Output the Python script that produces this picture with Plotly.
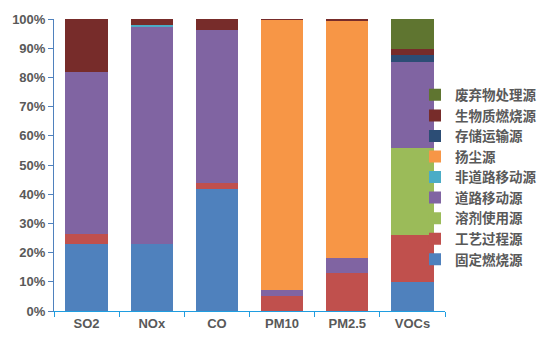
import plotly.graph_objects as go

categories = ["SO2", "NOx", "CO", "PM10", "PM2.5", "VOCs"]

source_names = ["固定燃烧源", "工艺过程源", "溶剂使用源", "道路移动源", "非道路移动源",
                "扬尘源", "存储运输源", "生物质燃烧源", "废弃物处理源"]

fixed_combustion = [22.9, 23.1, 41.9, 0, 0, 10.0]
industrial_process = [3.4, 0, 2.1, 5.2, 12.9, 15.9]
solvent_use = [0, 0, 0, 0, 0, 30.0]
road_mobile = [55.7, 74.5, 52.3, 1.9, 5.1, 29.5]
nonroad_mobile = [0, 0.4, 0, 0, 0, 0]
dust = [0, 0, 0, 92.6, 81.3, 0]
storage_transport = [0, 0, 0, 0, 0, 2.4]
biomass_burning = [18.0, 2.0, 3.7, 0.3, 0.7, 2.0]
waste_treatment = [0, 0, 0, 0, 0, 10.2]

series = [fixed_combustion, industrial_process, solvent_use, road_mobile, nonroad_mobile,
          dust, storage_transport, biomass_burning, waste_treatment]
colors = ["#4f81bd", "#c0504d", "#9bbb59", "#8064a2", "#4bacc6",
          "#f79646", "#2c4d75", "#772c2a", "#5f7530"]

y_ticks = list(range(0, 101, 10))
y_labels = [f"{v}%" for v in y_ticks]

fig = go.Figure()
for name, vals, c in zip(source_names, series, colors):
    fig.add_trace(go.Bar(x=categories, y=vals, name=name,
                         marker=dict(color=c, line=dict(width=0))))

tick_font = dict(family="Liberation Sans, Arial", size=13, color="#595959", weight="bold")

fig.update_layout(
    barmode="stack",
    bargap=0.35,
    width=554, height=354,
    margin=dict(l=53, r=97, t=17, b=43),
    paper_bgcolor="white", plot_bgcolor="white",
    showlegend=True,
    legend=dict(
        traceorder="reversed",
        x=(426 - 53) / 404, xanchor="left",
        y=(311 - 78) / 294, yanchor="top",
        bgcolor="rgba(0,0,0,0)",
        font=dict(family="Noto Sans CJK SC", size=13.5, color="#595959", weight="bold"),
    ),
    xaxis=dict(
        showline=True, linecolor="#1f9de0", linewidth=1,
        ticks="outside", ticklen=5, tickcolor="#1f9de0", tickson="boundaries",
        tickfont=tick_font, showgrid=False,
    ),
    yaxis=dict(
        range=[0, 100], tickmode="array", tickvals=y_ticks, ticktext=y_labels,
        showline=True, linecolor="#4f81bd", linewidth=1,
        ticks="outside", ticklen=5, tickcolor="#4f81bd",
        tickfont=tick_font, showgrid=False, zeroline=False,
    ),
)

fig.write_html("out.html")
